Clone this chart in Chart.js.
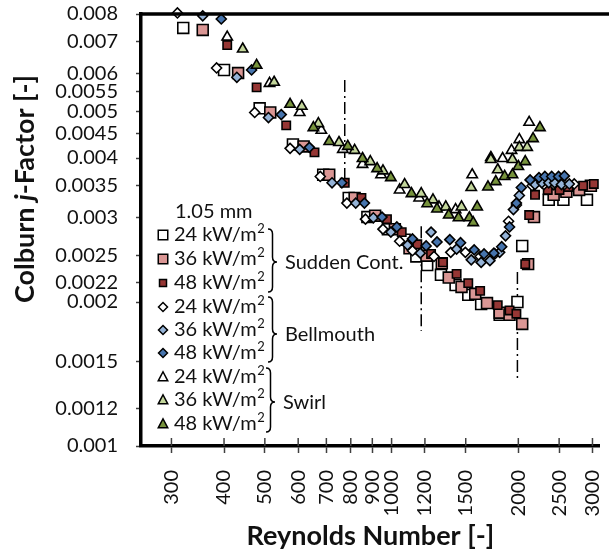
<!DOCTYPE html>
<html>
<head>
<meta charset="utf-8">
<script src="https://cdn.jsdelivr.net/npm/chart.js@4.4.1/dist/chart.umd.min.js"></script>
<style>
  html, body { margin: 0; padding: 0; background: #fff; }
  #wrap { width: 609px; height: 552px; }
</style>
</head>
<body>
<div id="wrap"><canvas id="chart" width="609" height="552"></canvas></div>
<script>
// Axis ticks
const reTicks = [300, 400, 500, 600, 700, 800, 900, 1000, 1200, 1500, 2000, 2500, 3000];
const jTicks = [0.001, 0.0012, 0.0015, 0.002, 0.0022, 0.0025, 0.003, 0.0035, 0.004, 0.0045, 0.005, 0.0055, 0.006, 0.007, 0.008];

// Sudden contraction (squares)
const sc24Re = [320, 400, 486, 583, 688, 791, 876, 980, 1074, 1145, 1215, 1310, 1419, 1521, 1632, 1806, 1990, 2043, 2362, 2559, 2911];
const sc24J = [0.00748, 0.00611, 0.00508, 0.00427, 0.00369, 0.00330, 0.00301, 0.00284, 0.00270, 0.00249, 0.00239, 0.00228, 0.00217, 0.00207, 0.00198, 0.00188, 0.00200, 0.00262, 0.00327, 0.00327, 0.00327];
const sc36Re = [356, 432, 515, 618, 711, 817, 914, 1018, 1103, 1210, 1316, 1367, 1466, 1580, 1685, 1806, 1906, 2043, 2110, 2179, 2426, 2601, 2789, 2974];
const sc36J = [0.00741, 0.00602, 0.00498, 0.00423, 0.00369, 0.00330, 0.00303, 0.00284, 0.00259, 0.00250, 0.00241, 0.00225, 0.00215, 0.00208, 0.00199, 0.00190, 0.00188, 0.00180, 0.00240, 0.00301, 0.00335, 0.00340, 0.00343, 0.00350];
const sc48Re = [407, 478, 562, 656, 774, 848, 975, 1057, 1151, 1241, 1324, 1427, 1521, 1623, 1787, 1906, 1979, 2077, 2122, 2191, 2349, 2505, 2630, 2850, 3022];
const sc48J = [0.00689, 0.00562, 0.00468, 0.00411, 0.00355, 0.00330, 0.00298, 0.00280, 0.00264, 0.00252, 0.00242, 0.00229, 0.00219, 0.00211, 0.00197, 0.00192, 0.00189, 0.00240, 0.00304, 0.00335, 0.00343, 0.00343, 0.00348, 0.00350, 0.00353];

// Bellmouth (diamonds)
const bm24Re = [310, 384, 473, 574, 677, 783, 867, 954, 1045, 1121, 1261, 1382, 1497, 1623, 1759, 1896, 1979, 2157, 2300, 2426, 2573, 2715];
const bm24J = [0.00804, 0.00617, 0.00498, 0.00419, 0.00366, 0.00322, 0.00298, 0.00284, 0.00268, 0.00256, 0.00249, 0.00254, 0.00254, 0.00249, 0.00252, 0.00295, 0.00319, 0.00350, 0.00352, 0.00352, 0.00352, 0.00353];
const bm36Re = [356, 429, 510, 605, 722, 822, 905, 996, 1091, 1170, 1241, 1427, 1546, 1632, 1712, 1806, 1865, 1947, 2011, 2191, 2275, 2362, 2439, 2532, 2643];
const bm36J = [0.00793, 0.00590, 0.00486, 0.00417, 0.00355, 0.00322, 0.00300, 0.00280, 0.00263, 0.00253, 0.00280, 0.00258, 0.00245, 0.00242, 0.00244, 0.00254, 0.00275, 0.00312, 0.00334, 0.00352, 0.00355, 0.00355, 0.00355, 0.00352, 0.00353];
const bm48Re = [394, 465, 547, 638, 762, 862, 949, 1029, 1121, 1208, 1282, 1375, 1458, 1571, 1658, 1750, 1826, 1906, 1979, 2033, 2133, 2239, 2312, 2400, 2492, 2573];
const bm48J = [0.00781, 0.00611, 0.00493, 0.00421, 0.00355, 0.00322, 0.00301, 0.00287, 0.00271, 0.00262, 0.00267, 0.00270, 0.00266, 0.00257, 0.00252, 0.00253, 0.00261, 0.00287, 0.00322, 0.00347, 0.00360, 0.00364, 0.00366, 0.00366, 0.00366, 0.00367];

// Swirl (triangles)
const sw24Re = [407, 513, 605, 681, 766, 853, 944, 1045, 1163, 1296, 1419, 1554, 1721, 1835, 1927, 2011, 2122];
const sw24J = [0.00716, 0.00573, 0.00498, 0.00457, 0.00417, 0.00388, 0.00369, 0.00343, 0.00330, 0.00316, 0.00312, 0.00369, 0.00401, 0.00399, 0.00415, 0.00437, 0.00475];
const sw36Re = [443, 526, 612, 670, 750, 817, 890, 954, 1074, 1176, 1254, 1345, 1466, 1546, 1721, 1787, 1937, 2011, 2099];
const sw36J = [0.00676, 0.00576, 0.00513, 0.00472, 0.00431, 0.00415, 0.00393, 0.00376, 0.00352, 0.00337, 0.00327, 0.00316, 0.00316, 0.00347, 0.00397, 0.00378, 0.00397, 0.00421, 0.00421];
const sw48Re = [478, 574, 652, 711, 787, 853, 924, 996, 1115, 1215, 1282, 1367, 1442, 1530, 1563, 1597, 1694, 1768, 1856, 1937, 2000, 2077, 2168, 2251];
const sw48J = [0.00625, 0.00518, 0.00463, 0.00433, 0.00423, 0.00399, 0.00380, 0.00364, 0.00337, 0.00321, 0.00313, 0.00304, 0.00300, 0.00300, 0.00293, 0.00316, 0.00348, 0.00357, 0.00366, 0.00369, 0.00384, 0.00393, 0.00439, 0.00463];

// Dash-dot transition markers
const transRe = [774, 1176, 1990];
const transTop = [0.00582, 0.00288, 0.00231];
const transBottom = [0.00347, 0.00174, 0.00138];

const fluxLabels = ['24', '36', '48'];
const groups = ['Sudden Cont.', 'Bellmouth', 'Swirl'];

const series = [
  { re: sc24Re, j: sc24J, shape: 'rect', color: '#ffffff', r: 7.7 },
  { re: sc36Re, j: sc36J, shape: 'rect', color: '#da9694', r: 7.7 },
  { re: sc48Re, j: sc48J, shape: 'rect', color: '#963634', r: 5.9 },
  { re: bm24Re, j: bm24J, shape: 'rectRot', color: '#ffffff', r: 5 },
  { re: bm36Re, j: bm36J, shape: 'rectRot', color: '#95b3d7', r: 5 },
  { re: bm48Re, j: bm48J, shape: 'rectRot', color: '#4674ad', r: 5 },
  { re: sw24Re, j: sw24J, shape: 'triangle', color: '#ffffff', r: 6 },
  { re: sw36Re, j: sw36J, shape: 'triangle', color: '#c3d69b', r: 6 },
  { re: sw48Re, j: sw48J, shape: 'triangle', color: '#77933c', r: 6 }
];

const toPoints = (re, j) => re.map((x, i) => ({ x: x, y: j[i] }));

const datasets = series.map((s, i) => ({
  type: 'scatter',
  data: toPoints(s.re, s.j),
  pointStyle: s.shape,
  pointRadius: s.r,
  pointHoverRadius: s.r,
  pointBackgroundColor: s.color,
  pointBorderColor: '#000',
  pointBorderWidth: 1.6,
  showLine: false,
  clip: false,
  order: 20 - i
}));

transRe.forEach((re, k) => {
  datasets.push({
    type: 'line',
    data: [{ x: re, y: transTop[k] }, { x: re, y: transBottom[k] }],
    borderColor: '#000',
    borderWidth: 1.5,
    borderDash: [12, 4, 2, 4],
    pointRadius: 0,
    fill: false,
    order: 50
  });
});

// small marker for the legend
function marker(ctx, shape, x, y, size, fill) {
  ctx.beginPath();
  if (shape === 'rect') {
    ctx.rect(x - size / 2, y - size / 2, size, size);
  } else if (shape === 'rectRot') {
    ctx.moveTo(x, y - size / 2);
    ctx.lineTo(x + size / 2, y);
    ctx.lineTo(x, y + size / 2);
    ctx.lineTo(x - size / 2, y);
    ctx.closePath();
  } else {
    ctx.moveTo(x, y - size * 0.55);
    ctx.lineTo(x + size / 2, y + size * 0.4);
    ctx.lineTo(x - size / 2, y + size * 0.4);
    ctx.closePath();
  }
  ctx.fillStyle = fill;
  ctx.fill();
  ctx.stroke();
}

function brace(ctx, x0, top, bottom, mid, w) {
  const xm = x0 + w / 2, r = 5;
  ctx.beginPath();
  ctx.moveTo(x0, top);
  ctx.quadraticCurveTo(xm, top, xm, top + r);
  ctx.lineTo(xm, mid - r);
  ctx.quadraticCurveTo(xm, mid, x0 + w, mid);
  ctx.quadraticCurveTo(xm, mid, xm, mid + r);
  ctx.lineTo(xm, bottom - r);
  ctx.quadraticCurveTo(xm, bottom, x0, bottom);
  ctx.stroke();
}

const extras = {
  id: 'extras',
  afterDraw(chart) {
    const { ctx, chartArea: a, scales: { x } } = chart;
    ctx.save();

    // top frame line
    ctx.strokeStyle = '#000';
    ctx.lineWidth = 3.5;
    ctx.beginPath();
    ctx.moveTo(a.left - 1.75, a.top);
    ctx.lineTo(chart.width, a.top);
    ctx.stroke();

    // x ticks reaching into the plot
    ctx.strokeStyle = '#404040';
    ctx.lineWidth = 1.5;
    reTicks.forEach(v => {
      const px = x.getPixelForValue(v);
      ctx.beginPath();
      ctx.moveTo(px, a.bottom - 8);
      ctx.lineTo(px, a.bottom);
      ctx.stroke();
    });

    // y axis title with italic j
    ctx.save();
    ctx.translate(25, 189);
    ctx.rotate(-Math.PI / 2);
    ctx.fillStyle = '#111';
    ctx.textBaseline = 'middle';
    ctx.textAlign = 'left';
    const parts = [['Colburn ', 'bold 27px Lato'], ['j', 'italic bold 27px Lato'], ['-Factor [-]', 'bold 27px Lato']];
    let total = 0;
    parts.forEach(p => { ctx.font = p[1]; total += ctx.measureText(p[0]).width; });
    let cx = -total / 2;
    parts.forEach(p => { ctx.font = p[1]; ctx.fillText(p[0], cx, 0); cx += ctx.measureText(p[0]).width; });
    ctx.restore();

    // legend
    ctx.fillStyle = '#111';
    ctx.textBaseline = 'middle';
    ctx.textAlign = 'left';
    ctx.font = '20px Lato';
    ctx.fillText('1.05 mm', 175, 212);

    const rowY = [235, 259, 283, 307, 330, 353, 377, 400, 424];
    const legendSize = { rect: 9.5, rectRot: 9, triangle: 9.5 };
    series.forEach((s, i) => {
      const y = rowY[i];
      ctx.strokeStyle = '#000';
      ctx.lineWidth = 1.5;
      const size = s.shape === 'rect' && s.r < 7 ? 7 : legendSize[s.shape];
      marker(ctx, s.shape, 163, y, size, s.color);
      ctx.fillStyle = '#111';
      ctx.font = '20px Lato';
      const label = fluxLabels[i % 3] + ' kW/m';
      ctx.fillText(label, 174, y);
      const w = ctx.measureText(label).width;
      ctx.font = '13px Lato';
      ctx.fillText('2', 174 + w + 0.5, y - 6);
    });

    ctx.strokeStyle = '#000';
    ctx.lineWidth = 1.5;
    const braces = [[229, 292, 262, 277], [297, 362, 334, 277], [368, 432, 402, 275]];
    braces.forEach((b, g) => {
      brace(ctx, b[3] - 9, b[0], b[1], b[2], 9);
      ctx.fillStyle = '#111';
      ctx.font = '20px Lato';
      ctx.fillText(groups[g], b[3] + 8, b[2] + 1);
    });

    ctx.restore();
  }
};

Chart.defaults.font.family = 'Lato';
Chart.defaults.color = '#111';

new Chart(document.getElementById('chart'), {
  type: 'scatter',
  data: { datasets: datasets },
  options: {
    responsive: false,
    animation: false,
    layout: { padding: { top: 14, left: 0, right: 0, bottom: 0 } },
    plugins: { legend: { display: false }, tooltip: { enabled: false } },
    scales: {
      x: {
        type: 'logarithmic',
        min: 254,
        max: 3121,
        afterBuildTicks: s => { s.ticks = reTicks.map(v => ({ value: v })); },
        afterFit: s => { s.height = 106; s.paddingLeft = 0; s.paddingRight = 0; },
        border: { display: true, color: '#000', width: 3.5 },
        grid: { display: true, drawOnChartArea: false, drawTicks: true, tickLength: 7, tickColor: '#404040', tickWidth: 1.5 },
        ticks: {
          autoSkip: false, minRotation: 90, maxRotation: 90, padding: 17,
          color: '#111', font: { size: 20 },
          callback: v => String(v)
        },
        title: {
          display: true, text: 'Reynolds Number [-]', color: '#111',
          font: { size: 27, weight: 'bold' }, padding: { top: 0, bottom: 0 }
        }
      },
      y: {
        type: 'logarithmic',
        min: 0.001,
        max: 0.008,
        afterBuildTicks: s => { s.ticks = jTicks.map(v => ({ value: v })); },
        afterFit: s => { s.width = 141; s.paddingTop = 0; s.paddingBottom = 0; },
        border: { display: true, color: '#000', width: 3.5 },
        grid: { display: true, drawOnChartArea: false, drawTicks: true, tickLength: 5, tickColor: '#404040', tickWidth: 1.5 },
        ticks: {
          autoSkip: false, padding: 18, color: '#111', font: { size: 20 },
          callback: v => String(v)
        }
      }
    }
  },
  plugins: [extras]
});
</script>
</body>
</html>
